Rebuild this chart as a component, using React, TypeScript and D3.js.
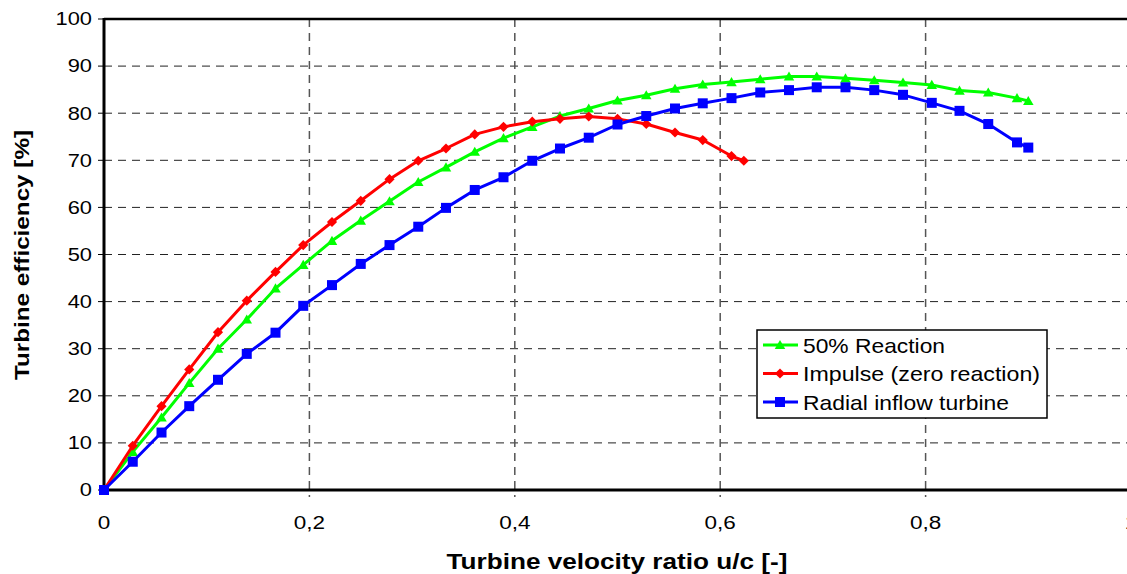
import * as d3 from 'd3'

// u/c sample points (1/36 steps, plus the end points)
const uc = [0, 0.028, 0.056, 0.083, 0.111, 0.139, 0.167, 0.194, 0.222, 0.25, 0.278, 0.306, 0.333, 0.361, 0.389, 0.417, 0.444, 0.472, 0.5, 0.528, 0.556, 0.583, 0.611, 0.639, 0.667, 0.694, 0.722, 0.75, 0.778, 0.806, 0.833, 0.861, 0.889, 0.9]
const ucImpulse = [0, 0.028, 0.056, 0.083, 0.111, 0.139, 0.167, 0.194, 0.222, 0.25, 0.278, 0.306, 0.333, 0.361, 0.389, 0.417, 0.444, 0.472, 0.5, 0.528, 0.556, 0.583, 0.611, 0.623]

const reaction50 = [0, 8.1, 15.4, 22.7, 30.0, 36.2, 42.8, 47.8, 52.9, 57.2, 61.3, 65.4, 68.5, 71.8, 74.7, 77.1, 79.4, 81.0, 82.7, 83.8, 85.2, 86.1, 86.6, 87.2, 87.8, 87.8, 87.4, 87.0, 86.5, 86.0, 84.8, 84.4, 83.2, 82.6]
const impulse = [0, 9.4, 17.8, 25.6, 33.5, 40.2, 46.3, 52.0, 56.9, 61.4, 66.0, 69.9, 72.5, 75.5, 77.1, 78.2, 78.8, 79.3, 78.8, 77.7, 75.9, 74.3, 70.9, 69.9]
const radial = [0, 6.0, 12.2, 17.8, 23.4, 28.9, 33.4, 39.1, 43.5, 48.0, 52.0, 55.9, 59.9, 63.7, 66.4, 69.9, 72.5, 74.8, 77.6, 79.4, 81.0, 82.1, 83.2, 84.4, 84.9, 85.5, 85.5, 84.9, 83.9, 82.2, 80.5, 77.7, 73.8, 72.7]

const xTicks = [0, 0.2, 0.4, 0.6, 0.8, 1]
const xTickLabels = ['0', '0,2', '0,4', '0,6', '0,8', '1']
const yTicks = [0, 10, 20, 30, 40, 50, 60, 70, 80, 90, 100]

const seriesNames = ['50% Reaction', 'Impulse (zero reaction)', 'Radial inflow turbine']
const seriesColors = ['#00ff00', '#ff0000', '#0000ff']
const seriesMarkers = ['triangle', 'diamond', 'square']
const legendWidths = [142, 237, 206]

const W = 1127
const H = 574
const font = 'Arial, "Liberation Sans", sans-serif'

function Marker({ kind, x, y, color }: { kind: string; x: number; y: number; color: string }) {
  if (kind === 'triangle') {
    const sym = d3.symbol(d3.symbolTriangle, 48)()
    return <path d={sym ?? ''} transform={`translate(${x},${y + 1})`} fill={color} />
  }
  if (kind === 'diamond') {
    return <rect x={-3.6} y={-3.6} width={7.2} height={7.2} transform={`translate(${x},${y}) rotate(45)`} fill={color} />
  }
  return <rect x={x - 5} y={y - 5} width={10} height={10} fill={color} />
}

export default function App() {
  const x = d3.scaleLinear().domain([0, 1]).range([104, 1131])
  const y = d3.scaleLinear().domain([0, 100]).range([490, 19])

  const series = [
    { xs: uc, ys: reaction50 },
    { xs: ucImpulse, ys: impulse },
    { xs: uc, ys: radial },
  ]
  const line = d3.line<[number, number]>().x(d => x(d[0])).y(d => y(d[1]))

  const legend = { x: 757, y: 330, w: 290, h: 88 }
  const rowY = [345, 373.5, 402]

  return (
    <svg width={W} height={H} style={{ position: 'absolute', left: 0, top: 0, background: '#fff' }} fontFamily={font}>
      <rect width={W} height={H} fill="#fff" />

      {/* grid */}
      {yTicks.filter(t => t > 0 && t < 100).map(t => (
        <line key={'gy' + t} x1={x(0)} x2={W} y1={y(t)} y2={y(t)} stroke="#222" strokeWidth={1} strokeDasharray="8,6" />
      ))}
      {xTicks.filter(t => t > 0).map(t => (
        <line key={'gx' + t} x1={x(t)} x2={x(t)} y1={y(100)} y2={y(0) + 7} stroke="#555" strokeWidth={1.5} strokeDasharray="8,6" />
      ))}

      {/* frame */}
      <line x1={x(0)} x2={W} y1={y(100)} y2={y(100)} stroke="#000" strokeWidth={2.5} />
      <line x1={x(0)} x2={W} y1={y(0)} y2={y(0)} stroke="#000" strokeWidth={3} />
      <line x1={x(0)} x2={x(0)} y1={y(100) - 1} y2={y(0) + 1} stroke="#000" strokeWidth={3} />
      {yTicks.map(t => (
        <line key={'ty' + t} x1={x(0) - 6} x2={x(0)} y1={y(t)} y2={y(t)} stroke="#000" strokeWidth={1} />
      ))}

      {/* tick labels */}
      {yTicks.map(t => (
        <text key={'ly' + t} transform={`translate(${x(0) - 12},${y(t) + 6.3}) scale(1.25,1)`} textAnchor="end" fontSize={17.5} fill="#000">
          {t}
        </text>
      ))}
      {xTicks.map((t, i) => (
        <text key={'lx' + t} transform={`translate(${x(t)},${529}) scale(1.25,1)`} textAnchor="middle" fontSize={18} fill="#000">
          {xTickLabels[i]}
        </text>
      ))}

      {/* axis titles */}
      <text x={617} y={569} textAnchor="middle" fontSize={22} fontWeight="bold" textLength={341} lengthAdjust="spacingAndGlyphs">
        Turbine velocity ratio u/c [-]
      </text>
      <text transform="translate(29,255) rotate(-90)" textAnchor="middle" fontSize={21} fontWeight="bold" textLength={250} lengthAdjust="spacingAndGlyphs">
        Turbine efficiency [%]
      </text>

      {/* series */}
      {series.map((s, i) => {
        const pts = s.xs.map((v, j) => [v, s.ys[j]] as [number, number])
        return (
          <g key={'s' + i}>
            <path d={line(pts) ?? ''} fill="none" stroke={seriesColors[i]} strokeWidth={3} strokeLinejoin="round" />
            {pts.map((p, j) => (
              <Marker key={j} kind={seriesMarkers[i]} x={x(p[0])} y={y(p[1])} color={seriesColors[i]} />
            ))}
          </g>
        )
      })}

      {/* legend */}
      <rect x={legend.x} y={legend.y} width={legend.w} height={legend.h} fill="#fff" stroke="#000" strokeWidth={1.5} />
      {seriesNames.map((name, i) => (
        <g key={'lg' + i}>
          <line x1={763} x2={798} y1={rowY[i]} y2={rowY[i]} stroke={seriesColors[i]} strokeWidth={3} />
          <Marker kind={seriesMarkers[i]} x={780} y={rowY[i]} color={seriesColors[i]} />
          <text x={803} y={rowY[i] + 7.5} fontSize={21} textLength={legendWidths[i]} lengthAdjust="spacingAndGlyphs" fill="#000">
            {name}
          </text>
        </g>
      ))}
    </svg>
  )
}
